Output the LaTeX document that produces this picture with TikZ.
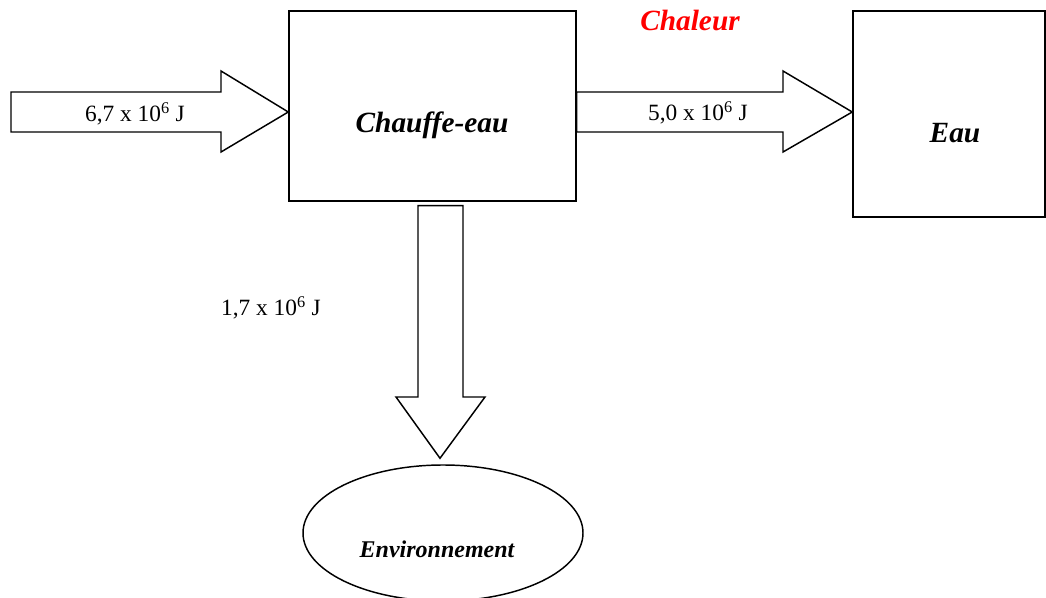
\documentclass[tikz,border=0pt]{standalone}
\usepackage{fontspec}
\setmainfont{Liberation Serif}
\usepackage{xcolor}
\usetikzlibrary{calc, shapes.geometric, positioning}

\begin{document}
\begin{tikzpicture}[x=0.75pt, y=-0.75pt, line width=1.1pt,
    boite/.style={draw, rectangle, inner sep=0pt},
    fleche/.style={draw, line join=miter, fill=white},
    titre/.style={font=\fontsize{22}{26}\selectfont\bfseries\itshape},
    valeur/.style={font=\fontsize{17.5}{21}\selectfont}]
    \useasboundingbox (0,0) rectangle (1046,598);

    % Boîtes
    \node[boite, minimum width=215.25pt, minimum height=142.5pt] (chauffe) at (432.5,106) {};
    \node[titre] (chauffetxt) at (432,125) {Chauffe-eau};
    \node[boite, minimum width=144pt, minimum height=154.5pt] (eau) at (949,114) {};
    \node[titre] (eautxt) at (955,133) {Eau};
    \node[draw, ellipse, inner sep=0pt, minimum width=210pt, minimum height=102pt] (env) at (443,533) {};
    \node[titre, font=\fontsize{18}{22}\selectfont\bfseries\itshape] (envtxt) at (437,549) {Environnement};
    \node[titre, text=red] (chaleur) at (690,21) {Chaleur};

    % Flèches
    \coordinate (source) at (11,112);
    \draw[fleche] ($(source)+(0,-20)$) -- ($(source)+(210,-20)$) -- ($(source)+(210,-41)$)
        -- (chauffe.west |- source) -- ($(source)+(210,40)$) -- ($(source)+(210,20)$)
        -- ($(source)+(0,20)$) -- cycle;
    \draw[fleche] ($(chauffe.east |- source)+(0,-20)$) -- (783,92) -- (783,71)
        -- (eau.west |- source) -- (783,152) -- (783,132)
        -- ($(chauffe.east |- source)+(0,20)$) -- cycle;
    \draw[fleche] ($(chauffe.south)+(-14.5,4)$) -- (418,397) -- (396,397)
        -- ($(env.north)+(-3,-6)$) -- (485,397) -- (463,397)
        -- ($(chauffe.south)+(30.5,4)$) -- cycle;

    % Valeurs
    \node[valeur] (entree) at (135,114) {6,7 x 10\textsuperscript{6} J};
    \node[valeur] (utile) at (698,113) {5,0 x 10\textsuperscript{6} J};
    \node[valeur] (perte) at (271,308) {1,7 x 10\textsuperscript{6} J};
\end{tikzpicture}
\end{document}
